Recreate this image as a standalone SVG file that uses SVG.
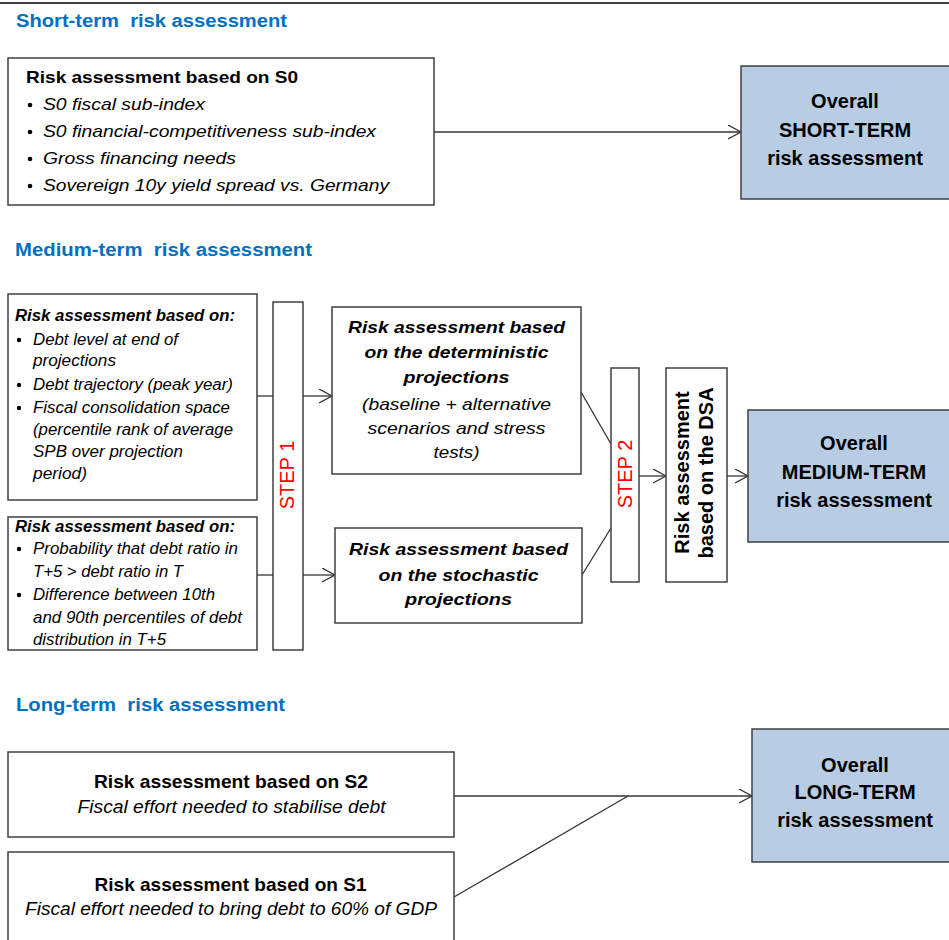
<svg xmlns="http://www.w3.org/2000/svg" width="949" height="940" viewBox="0 0 949 940">
<style>
text{font-family:"Liberation Sans",Arial,sans-serif;fill:#000}
.b{font-weight:bold}
.i{font-style:italic}
.s16{font-size:16px}
.s17{font-size:17px}
.s18{font-size:18.5px}
.s20{font-size:20px}
.m{text-anchor:middle}
.title{font-weight:bold;fill:#0070C0;font-size:18px;white-space:pre}
.step{fill:#FF0000;font-size:20px;text-anchor:middle}
.box{fill:#fff;stroke:#404040;stroke-width:1.5}
.ov{fill:#B8CCE4;stroke:#404040;stroke-width:1.5}
.c{fill:none;stroke:#333;stroke-width:1.3}
.dot{fill:#000}
</style>
<defs>
<marker id="arr" markerUnits="userSpaceOnUse" markerWidth="16" markerHeight="16" refX="13" refY="7" orient="auto">
<path d="M0,0 L13,7 L0,14" fill="none" stroke="#333" stroke-width="1.3"/>
</marker>
</defs>
<rect width="949" height="940" fill="#fff"/>
<line x1="0" y1="3" x2="949" y2="3" stroke="#000" stroke-width="1.5"/>

<g id="titles">
<text class="title" xml:space="preserve" x="16" y="27" textLength="271" lengthAdjust="spacingAndGlyphs">Short-term  risk assessment</text>
<text class="title" xml:space="preserve" x="15" y="256" textLength="297" lengthAdjust="spacingAndGlyphs">Medium-term  risk assessment</text>
<text class="title" xml:space="preserve" x="16" y="711" textLength="269" lengthAdjust="spacingAndGlyphs">Long-term  risk assessment</text>
</g>

<g id="connectors">
<line class="c" x1="434" y1="132" x2="741" y2="132" marker-end="url(#arr)"/>
<line class="c" x1="257" y1="396" x2="273" y2="396"/>
<line class="c" x1="303" y1="396" x2="332" y2="396" marker-end="url(#arr)"/>
<line class="c" x1="257" y1="575" x2="273" y2="575"/>
<line class="c" x1="303" y1="575" x2="335" y2="575" marker-end="url(#arr)"/>
<line class="c" x1="581" y1="392" x2="611" y2="444"/>
<line class="c" x1="582" y1="575" x2="611" y2="528"/>
<line class="c" x1="639" y1="476" x2="666" y2="476" marker-end="url(#arr)"/>
<line class="c" x1="727" y1="476" x2="748" y2="476" marker-end="url(#arr)"/>
<line class="c" x1="454" y1="796" x2="752" y2="796" marker-end="url(#arr)"/>
<line class="c" x1="454" y1="897" x2="628" y2="796"/>
</g>

<g id="s0">
<rect class="box" x="8" y="58" width="426" height="147"/>
<text class="b s17" x="26" y="83" textLength="272" lengthAdjust="spacingAndGlyphs">Risk assessment based on S0</text>
<circle class="dot" cx="30" cy="105" r="2.3"/>
<circle class="dot" cx="30" cy="132" r="2.3"/>
<circle class="dot" cx="30" cy="159" r="2.3"/>
<circle class="dot" cx="30" cy="186" r="2.3"/>
<text class="i s17" x="43" y="110" textLength="162" lengthAdjust="spacingAndGlyphs">S0 fiscal sub-index</text>
<text class="i s17" x="43" y="137" textLength="333" lengthAdjust="spacingAndGlyphs">S0 financial-competitiveness sub-index</text>
<text class="i s17" x="43" y="164" textLength="193" lengthAdjust="spacingAndGlyphs">Gross financing needs</text>
<text class="i s17" x="43" y="191" textLength="346" lengthAdjust="spacingAndGlyphs">Sovereign 10y yield spread vs. Germany</text>
</g>

<g id="short-overall">
<rect class="ov" x="741" y="66" width="212" height="133"/>
<text class="b s20 m" x="845" y="108">Overall</text>
<text class="b s20 m" x="845" y="137">SHORT-TERM</text>
<text class="b s20 m" x="845" y="165">risk assessment</text>
</g>

<g id="det-inputs">
<rect class="box" x="8" y="294" width="249" height="206"/>
<text class="b i s16" x="15" y="321" textLength="220" lengthAdjust="spacingAndGlyphs">Risk assessment based on:</text>
<circle class="dot" cx="19" cy="340" r="2.2"/>
<circle class="dot" cx="19" cy="385" r="2.2"/>
<circle class="dot" cx="19" cy="408" r="2.2"/>
<text class="i s16" x="33" y="345" textLength="145" lengthAdjust="spacingAndGlyphs">Debt level at end of</text>
<text class="i s16" x="33" y="366" textLength="83" lengthAdjust="spacingAndGlyphs">projections</text>
<text class="i s16" x="33" y="390" textLength="200" lengthAdjust="spacingAndGlyphs">Debt trajectory (peak year)</text>
<text class="i s16" x="33" y="413" textLength="197" lengthAdjust="spacingAndGlyphs">Fiscal consolidation space</text>
<text class="i s16" x="33" y="435" textLength="200" lengthAdjust="spacingAndGlyphs">(percentile rank of average</text>
<text class="i s16" x="33" y="457" textLength="150" lengthAdjust="spacingAndGlyphs">SPB over projection</text>
<text class="i s16" x="33" y="479" textLength="54" lengthAdjust="spacingAndGlyphs">period)</text>
</g>

<g id="stoch-inputs">
<rect class="box" x="8" y="517" width="249" height="133"/>
<text class="b i s16" x="15" y="532" textLength="220" lengthAdjust="spacingAndGlyphs">Risk assessment based on:</text>
<circle class="dot" cx="19" cy="549" r="2.2"/>
<circle class="dot" cx="19" cy="595" r="2.2"/>
<text class="i s16" x="33" y="554" textLength="205" lengthAdjust="spacingAndGlyphs">Probability that debt ratio in</text>
<text class="i s16" x="33" y="577" textLength="150" lengthAdjust="spacingAndGlyphs">T+5 &gt; debt ratio in T</text>
<text class="i s16" x="33" y="600" textLength="182" lengthAdjust="spacingAndGlyphs">Difference between 10th</text>
<text class="i s16" x="33" y="623" textLength="209" lengthAdjust="spacingAndGlyphs">and 90th percentiles of debt</text>
<text class="i s16" x="33" y="645" textLength="133" lengthAdjust="spacingAndGlyphs">distribution in T+5</text>
</g>

<g id="step1">
<rect class="box" x="273" y="302" width="30" height="348"/>
<text class="step" transform="translate(294,475) rotate(-90)">STEP 1</text>
</g>

<g id="det-proj">
<rect class="box" x="332" y="307" width="249" height="167"/>
<text class="b i s17 m" x="456.5" y="333" textLength="217" lengthAdjust="spacingAndGlyphs">Risk assessment based</text>
<text class="b i s17 m" x="456.5" y="358" textLength="184" lengthAdjust="spacingAndGlyphs">on the deterministic</text>
<text class="b i s17 m" x="456.5" y="383" textLength="106" lengthAdjust="spacingAndGlyphs">projections</text>
<text class="i s17 m" x="456.5" y="410" textLength="189" lengthAdjust="spacingAndGlyphs">(baseline + alternative</text>
<text class="i s17 m" x="456.5" y="434" textLength="178" lengthAdjust="spacingAndGlyphs">scenarios and stress</text>
<text class="i s17 m" x="456.5" y="458" textLength="46" lengthAdjust="spacingAndGlyphs">tests)</text>
</g>

<g id="stoch-proj">
<rect class="box" x="335" y="528" width="247" height="95"/>
<text class="b i s17 m" x="458.5" y="555" textLength="219" lengthAdjust="spacingAndGlyphs">Risk assessment based</text>
<text class="b i s17 m" x="458.5" y="581" textLength="160" lengthAdjust="spacingAndGlyphs">on the stochastic</text>
<text class="b i s17 m" x="458.5" y="605" textLength="107" lengthAdjust="spacingAndGlyphs">projections</text>
</g>

<g id="step2">
<rect class="box" x="611" y="368" width="28" height="214"/>
<text class="step" transform="translate(631.5,474) rotate(-90)">STEP 2</text>
</g>

<g id="dsa">
<rect class="box" x="666" y="368" width="61" height="214"/>
<text class="b s20 m" transform="translate(689,472.5) rotate(-90)">Risk assessment</text>
<text class="b s20 m" transform="translate(713,473) rotate(-90)">based on the DSA</text>
</g>

<g id="medium-overall">
<rect class="ov" x="748" y="410" width="214" height="132"/>
<text class="b s20 m" x="854" y="450">Overall</text>
<text class="b s20 m" x="854" y="479">MEDIUM-TERM</text>
<text class="b s20 m" x="854" y="507">risk assessment</text>
</g>

<g id="s2">
<rect class="box" x="8" y="752" width="446" height="85"/>
<text class="b s18 m" x="231" y="788" textLength="274" lengthAdjust="spacingAndGlyphs">Risk assessment based on S2</text>
<text class="i s18 m" x="231.5" y="813" textLength="308" lengthAdjust="spacingAndGlyphs">Fiscal effort needed to stabilise debt</text>
</g>

<g id="s1">
<rect class="box" x="8" y="852" width="446" height="100"/>
<text class="b s18 m" x="230.5" y="891" textLength="272" lengthAdjust="spacingAndGlyphs">Risk assessment based on S1</text>
<text class="i s18 m" x="231" y="915" textLength="412" lengthAdjust="spacingAndGlyphs">Fiscal effort needed to bring debt to 60% of GDP</text>
</g>

<g id="long-overall">
<rect class="ov" x="752" y="729" width="210" height="133"/>
<text class="b s20 m" x="855" y="772">Overall</text>
<text class="b s20 m" x="855" y="799">LONG-TERM</text>
<text class="b s20 m" x="855" y="827">risk assessment</text>
</g>
</svg>
